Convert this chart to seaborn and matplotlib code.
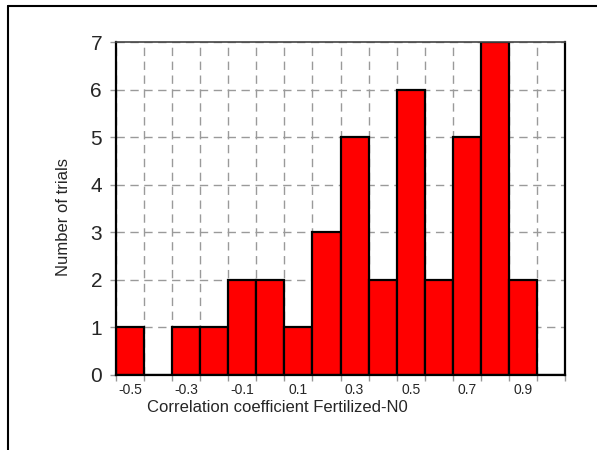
import numpy as np
import pandas as pd
import matplotlib
matplotlib.use("Agg")
import matplotlib.pyplot as plt
from matplotlib.lines import Line2D
import seaborn as sns

# Data
bin_centers = [-0.5, -0.4, -0.3, -0.2, -0.1, 0.0, 0.1, 0.2, 0.3, 0.4, 0.5, 0.6, 0.7, 0.8, 0.9, 1.0]
counts = [1, 0, 1, 1, 2, 2, 1, 3, 5, 2, 6, 2, 5, 7, 2, 0]
xtick_labels = ["-0.5", "-0.3", "-0.1", "0.1", "0.3", "0.5", "0.7", "0.9"]
xtick_positions = [-0.5, -0.3, -0.1, 0.1, 0.3, 0.5, 0.7, 0.9]
yticks = [0, 1, 2, 3, 4, 5, 6, 7]

df = pd.DataFrame({"r": bin_centers, "n": np.array(counts, dtype=float)})
edges = [round(-0.55 + 0.1 * i, 2) for i in range(len(bin_centers) + 1)]

sns.set_style("white")
plt.rcParams['font.family'] = ['Liberation Sans', 'DejaVu Sans']

fig = plt.figure(figsize=(5.97, 4.5), dpi=100)
ax = fig.add_axes([116/597, 1-375/450, (565-116)/597, (375-42)/450])

sns.histplot(data=df, x="r", weights="n", bins=edges, ax=ax,
             color="#ff0000", alpha=1.0, edgecolor="black", linewidth=1.6, zorder=3)

ax.set_xlim(-0.55, 1.05)
ax.set_ylim(0, 7)

# gridlines at bin edges and integer counts
ax.set_xticks(edges)
ax.set_xticklabels([""] * len(edges))
ax.set_xticks(xtick_positions, minor=True)
ax.set_xticklabels(xtick_labels, minor=True, fontsize=10)
ax.tick_params(axis="x", which="minor", length=0, pad=6)
ax.tick_params(axis="x", which="major", length=4, width=1, color="#999999", direction="out", bottom=True)
ax.set_yticks(yticks)
ax.set_yticklabels([str(v) for v in yticks], fontsize=15)
ax.tick_params(axis="y", length=4, width=1, color="#999999", direction="out", left=True, pad=6)

ax.grid(True, which="major", color="#9a9a9a", linestyle=(0, (6, 4)), linewidth=1, zorder=0)
ax.set_axisbelow(True)

for s in ["left", "bottom", "right"]:
    ax.spines[s].set_color("black")
    ax.spines[s].set_linewidth(1.6)
ax.spines["top"].set_color("#444444")
ax.spines["top"].set_linewidth(1.2)
for s in ax.spines.values():
    s.set_zorder(5)

ax.set_xlabel("")
ax.set_ylabel("")
fig.text(277/597, 1-408/450, "Correlation coefficient Fertilized-N0", fontsize=12,
         ha="center", va="center")
fig.text(63/597, 1-217/450, "Number of trials", fontsize=12, rotation=90,
         ha="center", va="center")

# outer frame lines (top and left)
fig.add_artist(Line2D([8/597, 1], [1-6/450, 1-6/450], color="black", linewidth=1.5, transform=fig.transFigure))
fig.add_artist(Line2D([8/597, 8/597], [0, 1-6/450], color="black", linewidth=1.5, transform=fig.transFigure))

fig.savefig("out.png", dpi=100)
